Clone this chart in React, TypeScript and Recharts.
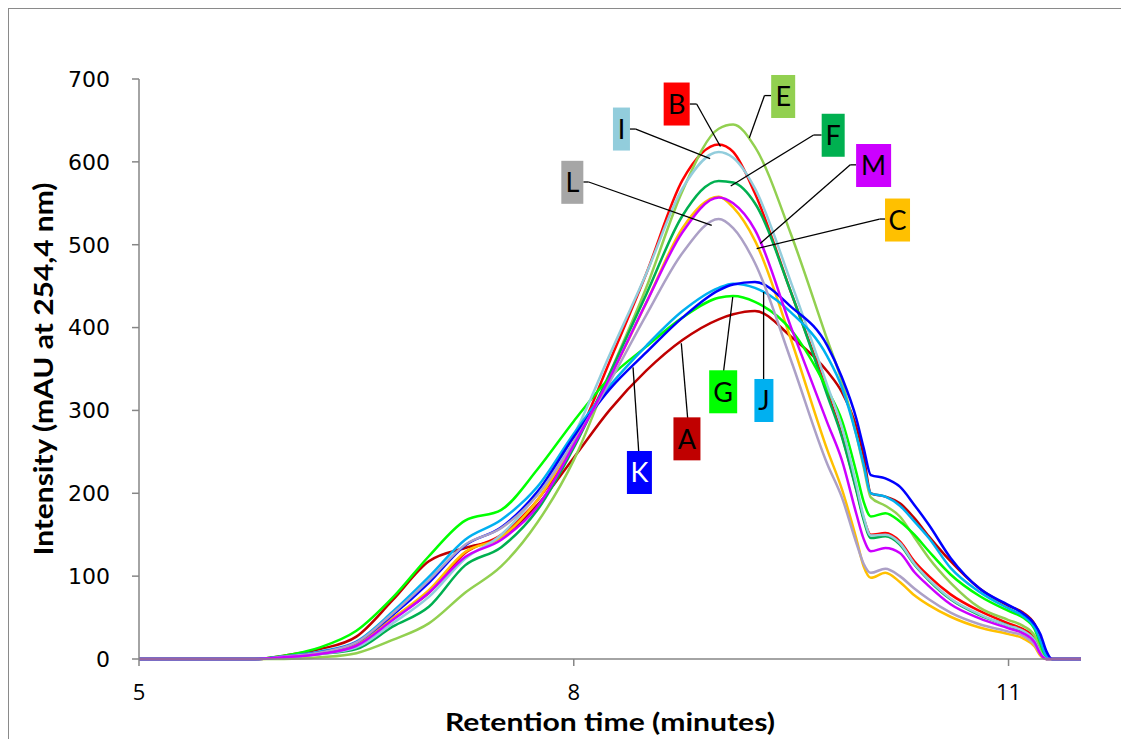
import React from 'react';
import { LineChart, Line, XAxis, YAxis, ReferenceLine, ReferenceDot } from 'recharts';

// Retention time (minutes)
const times = [5.0, 5.8, 6.0, 6.25, 6.5, 6.75, 7.0, 7.25, 7.5, 7.75, 8.0, 8.25, 8.5, 8.75, 9.0, 9.1, 9.25, 9.5, 9.75, 9.85, 9.95, 10.0, 10.05, 10.15, 10.25, 10.35, 10.45, 10.6, 10.8, 11.0, 11.1, 11.18, 11.22, 11.26, 11.3, 11.5];

// Intensity (mAU at 254,4 nm)
const seriesA = [0, 0, 4, 12, 27, 71, 118, 134, 147, 186, 243, 301, 348, 385, 410, 416, 420, 389, 347, 322, 280, 245, 200, 196, 188, 170, 148, 118, 85, 64, 56, 42, 27, 6, 0, 0];
const seriesB = [0, 0, 3, 8, 17, 49, 80, 128, 150, 192, 258, 360, 465, 578, 621, 612, 562, 442, 322, 270, 205, 170, 150, 152, 142, 118, 100, 78, 58, 43, 36, 25, 10, 0, 0, 0];
const seriesC = [0, 0, 2, 7, 17, 49, 83, 129, 147, 192, 262, 340, 430, 520, 558, 545, 505, 385, 252, 205, 145, 112, 98, 104, 93, 77, 65, 51, 38, 30, 25, 15, 4, 0, 0, 0];
const seriesE = [0, 0, 0, 2, 7, 23, 43, 80, 112, 165, 240, 345, 448, 565, 640, 645, 618, 512, 385, 335, 270, 232, 195, 185, 172, 147, 122, 92, 62, 47, 40, 28, 12, 0, 0, 0];
const seriesF = [0, 0, 2, 6, 12, 39, 63, 113, 135, 180, 255, 345, 440, 535, 577, 575, 550, 442, 318, 268, 203, 168, 146, 148, 138, 114, 95, 72, 53, 40, 33, 22, 8, 0, 0, 0];
const seriesG = [0, 0, 4, 14, 34, 74, 124, 167, 180, 229, 287, 340, 377, 412, 436, 438, 431, 397, 325, 288, 225, 190, 172, 176, 166, 150, 130, 102, 76, 58, 50, 36, 18, 2, 0, 0];
const seriesI = [0, 0, 2, 6, 14, 43, 75, 121, 150, 200, 270, 368, 465, 568, 612, 605, 568, 454, 330, 280, 210, 172, 149, 150, 140, 115, 96, 73, 54, 40, 34, 22, 8, 0, 0, 0];
const seriesJ = [0, 0, 3, 9, 21, 57, 99, 144, 168, 208, 272, 330, 378, 420, 448, 453, 448, 418, 365, 328, 270, 235, 200, 196, 185, 166, 146, 110, 81, 61, 52, 38, 22, 4, 0, 0];
const seriesK = [0, 0, 3, 8, 20, 53, 92, 137, 159, 202, 268, 326, 370, 412, 445, 452, 455, 425, 378, 340, 290, 255, 222, 218, 208, 186, 162, 122, 85, 65, 55, 42, 30, 10, 0, 0];
const seriesL = [0, 0, 3, 8, 20, 55, 95, 138, 158, 198, 262, 335, 415, 490, 531, 520, 478, 360, 235, 195, 140, 115, 104, 109, 100, 85, 72, 56, 42, 33, 28, 17, 6, 0, 0, 0];
const seriesM = [0, 0, 2, 6, 16, 47, 80, 123, 144, 184, 258, 340, 430, 515, 557, 550, 518, 400, 285, 240, 175, 145, 130, 134, 128, 105, 88, 66, 49, 37, 31, 20, 6, 0, 0, 0];

const xTicks = [5, 8, 11];
const yTicks = [0, 100, 200, 300, 400, 500, 600, 700];

const SERIES = [
  { key: 'A', values: seriesA, color: '#C00000' },
  { key: 'B', values: seriesB, color: '#FF0000' },
  { key: 'C', values: seriesC, color: '#FFC000' },
  { key: 'E', values: seriesE, color: '#92D050' },
  { key: 'F', values: seriesF, color: '#00B050' },
  { key: 'G', values: seriesG, color: '#00FF00' },
  { key: 'I', values: seriesI, color: '#92CDDC' },
  { key: 'J', values: seriesJ, color: '#00B0F0' },
  { key: 'K', values: seriesK, color: '#0000FF' },
  { key: 'L', values: seriesL, color: '#ACA0C6' },
  { key: 'M', values: seriesM, color: '#CC00FF' },
];

const data = times.map((t, i) => {
  const row: Record<string, number> = { t };
  SERIES.forEach((s) => {
    row[s.key] = s.values[i];
  });
  return row;
});

// label annotations, in data units (retention time, intensity)
const annotations = [
  { label: 'A', box: [8.781, 265.7], leader: [[8.786, 290.3], [8.742, 381]] },
  { label: 'B', box: [8.71, 669.8], leader: [[8.8, 669.8], [8.848, 669.8], [9.012, 618.5]] },
  { label: 'C', box: [10.234, 529.8], leader: [[10.152, 531], [10.11, 531], [9.262, 495.3]] },
  { label: 'E', box: [9.445, 678.9], leader: [[9.362, 680], [9.316, 680], [9.211, 628.9]] },
  { label: 'F', box: [9.79, 632.1], leader: [[9.71, 632.4], [9.655, 632.4], [9.083, 570.8]] },
  { label: 'G', box: [9.031, 322.5], leader: [[9.034, 347.6], [9.097, 436.9]] },
  { label: 'I', box: [8.329, 639.6], leader: [[8.385, 639.6], [8.428, 639.6], [8.941, 603.9]] },
  { label: 'J', box: [9.312, 312], leader: [[9.31, 337.9], [9.31, 442.9]] },
  { label: 'K', box: [8.453, 225.1], leader: [[8.448, 251], [8.409, 352]] },
  { label: 'L', box: [7.99, 575.3], leader: [[8.066, 575.7], [8.103, 575.7], [8.952, 523.3]] },
  { label: 'M', box: [10.069, 595.6], leader: [[9.948, 596.4], [9.908, 596.4], [9.287, 501.6]] },
];

const boxFill: Record<string, string> = {
  A: '#C00000', B: '#FF0000', C: '#FFC000', E: '#92D050', F: '#00B050', G: '#00FF00',
  I: '#92CDDC', J: '#00B0F0', K: '#0000FF', L: '#A6A6A6', M: '#CC00FF',
};
const boxWidth: Record<string, number> = {
  A: 27, B: 26, C: 25, E: 24, F: 23, G: 28, I: 17, J: 19, K: 25, L: 22, M: 35,
};

const LabelBox = (props: any) => {
  const { cx, cy, label } = props;
  const w = boxWidth[label] || 26;
  const h = 43;
  return (
    <g>
      <rect x={cx - w / 2} y={cy - h / 2} width={w} height={h} fill={boxFill[label]} />
      <text
        x={cx}
        y={cy}
        dy="0.36em"
        textAnchor="middle"
        fontFamily="Lato, 'Open Sans', sans-serif"
        fontSize={27}
        fill={label === 'K' ? '#FFFFFF' : '#000000'}
      >
        {label}
      </text>
    </g>
  );
};

const YTitle = (props: any) => {
  const vb = props.viewBox || {};
  const x = vb.x - 6;
  const y = vb.y + vb.height / 2;
  return (
    <text
      x={x}
      y={y}
      transform={`rotate(-90, ${x}, ${y})`}
      textAnchor="middle"
      dominantBaseline="central"
      fontFamily="Lato, sans-serif"
      fontWeight="bold"
      fontSize={26}
      textLength={373}
      lengthAdjust="spacingAndGlyphs"
      fill="#000"
    >
      Intensity (mAU at 254,4 nm)
    </text>
  );
};

const XTitle = (props: any) => {
  const vb = props.viewBox || {};
  const x = vb.x + vb.width / 2;
  const y = vb.y + 62;
  return (
    <text
      x={x}
      y={y}
      textAnchor="middle"
      dominantBaseline="central"
      fontFamily="Lato, sans-serif"
      fontWeight="bold"
      fontSize={25}
      textLength={330}
      lengthAdjust="spacingAndGlyphs"
      fill="#000"
    >
      Retention time (minutes)
    </text>
  );
};

export default function App() {
  return (
    <div
      style={{
        width: 1112,
        height: 745,
        borderTop: '1px solid #8a8a8a',
        borderLeft: '1px solid #8a8a8a',
        borderRight: '1px solid #8a8a8a',
      }}
    >
      <LineChart
        width={1112}
        height={731}
        data={data}
        margin={{ top: 70, right: 40, bottom: 31, left: 40 }}
      >
        <XAxis
          dataKey="t"
          type="number"
          domain={[5, 11.5]}
          ticks={xTicks}
          allowDataOverflow
          height={50}
          tickSize={7}
          tickMargin={18}
          axisLine={{ stroke: '#868686', strokeWidth: 1.5 }}
          tickLine={{ stroke: '#868686', strokeWidth: 1.5 }}
          tick={{ fill: '#000', fontSize: 22, fontFamily: "'Open Sans', sans-serif" }}
          label={<XTitle />}
        />
        <YAxis
          type="number"
          domain={[0, 700]}
          ticks={yTicks}
          width={90}
          tickSize={7}
          tickMargin={22}
          axisLine={{ stroke: '#868686', strokeWidth: 1.5 }}
          tickLine={{ stroke: '#868686', strokeWidth: 1.5 }}
          tick={{ fill: '#000', fontSize: 22, fontFamily: "'DejaVu Sans', sans-serif" }}
          label={<YTitle />}
        />
        {SERIES.map((s) => (
          <Line
            key={s.key}
            type="monotone"
            dataKey={s.key}
            stroke={s.color}
            strokeWidth={2.5}
            dot={false}
            activeDot={false}
            isAnimationActive={false}
          />
        ))}
        {annotations.map((a) =>
          a.leader.slice(1).map((p, i) => (
            <ReferenceLine
              key={`${a.label}-seg-${i}`}
              segment={[
                { x: a.leader[i][0], y: a.leader[i][1] },
                { x: p[0], y: p[1] },
              ]}
              stroke="#000"
              strokeWidth={1.3}
              ifOverflow="visible"
            />
          ))
        )}
        {annotations.map((a) => (
          <ReferenceDot
            key={`${a.label}-box`}
            x={a.box[0]}
            y={a.box[1]}
            r={1}
            ifOverflow="visible"
            shape={(p: any) => <LabelBox cx={p.cx} cy={p.cy} label={a.label} />}
          />
        ))}
      </LineChart>
    </div>
  );
}
